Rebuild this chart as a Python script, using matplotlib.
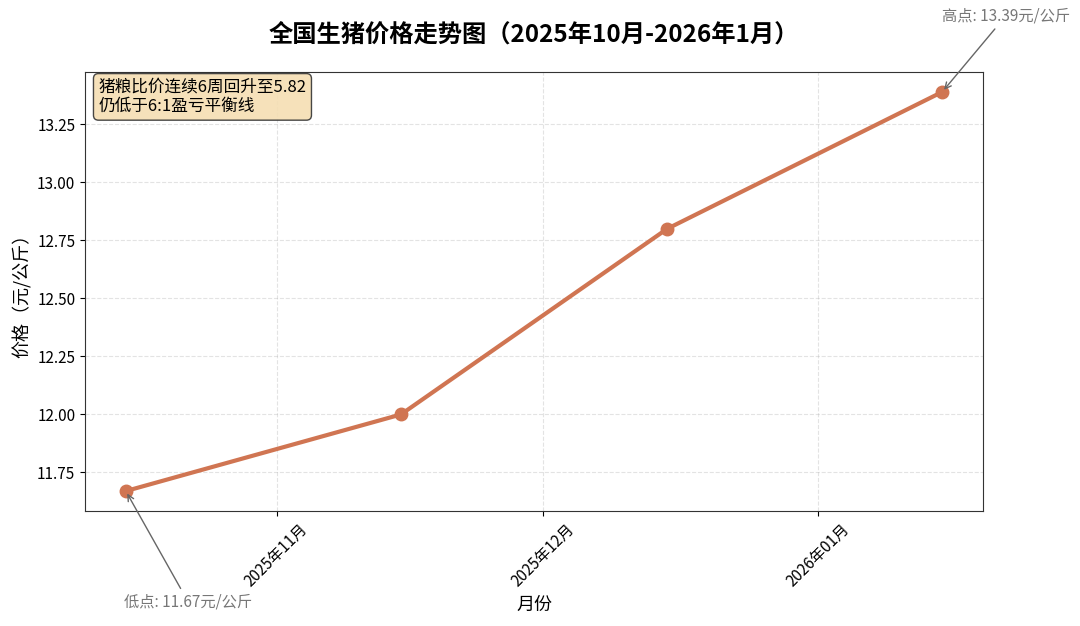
import matplotlib
matplotlib.use('Agg')
import matplotlib.pyplot as plt
import matplotlib.dates as mdates
import pandas as pd

plt.rcParams['font.family'] = ['Noto Sans CJK SC', 'DejaVu Sans']
plt.rcParams['axes.unicode_minus'] = False

dates = pd.to_datetime(['2025-10-15', '2025-11-15', '2025-12-15', '2026-01-15'])
prices = [11.67, 12.00, 12.80, 13.39]
note = '猪粮比价连续6周回升至5.82\n仍低于6:1盈亏平衡线'

fig = plt.figure(figsize=(10.8, 6.26), dpi=100)
ax = fig.add_axes([0.0787, 0.1837, 0.8315, 0.7013])

ax.plot(dates, prices, color='#D07552', linewidth=3, marker='o', markersize=9)

ax.set_title('全国生猪价格走势图（2025年10月-2026年1月）', fontsize=17.5, fontweight='bold', pad=22)
ax.set_xlabel('月份', fontsize=13)
ax.set_ylabel('价格（元/公斤）', fontsize=13)
ax.grid(True, linestyle='--', alpha=0.35)

ax.xaxis.set_major_locator(mdates.MonthLocator())
ax.xaxis.set_major_formatter(mdates.DateFormatter('%Y年%m月'))
plt.setp(ax.get_xticklabels(), rotation=45, ha='center', rotation_mode='default')
ax.tick_params(labelsize=11)
for s in ax.spines.values():
    s.set_color('#333333')

i_min = prices.index(min(prices))
i_max = prices.index(max(prices))
ax.annotate(f'低点: {prices[i_min]:.2f}元/公斤', xy=(dates[i_min], prices[i_min]),
            xytext=(45, -80), textcoords='offset points', ha='center', va='center',
            fontsize=11, color='#777777',
            arrowprops=dict(arrowstyle='->', color='#666666', lw=1))
ax.annotate(f'高点: {prices[i_max]:.2f}元/公斤', xy=(dates[i_max], prices[i_max]),
            xytext=(46, 55), textcoords='offset points', ha='center', va='center',
            fontsize=11, color='#777777',
            arrowprops=dict(arrowstyle='->', color='#666666', lw=1))

ax.text(0.015, 0.985, note, transform=ax.transAxes, va='top', ha='left', fontsize=12,
        bbox=dict(boxstyle='round,pad=0.3', facecolor='#F5DEB3', edgecolor='#333333', alpha=0.9))

fig.savefig('out.png', dpi=100)
